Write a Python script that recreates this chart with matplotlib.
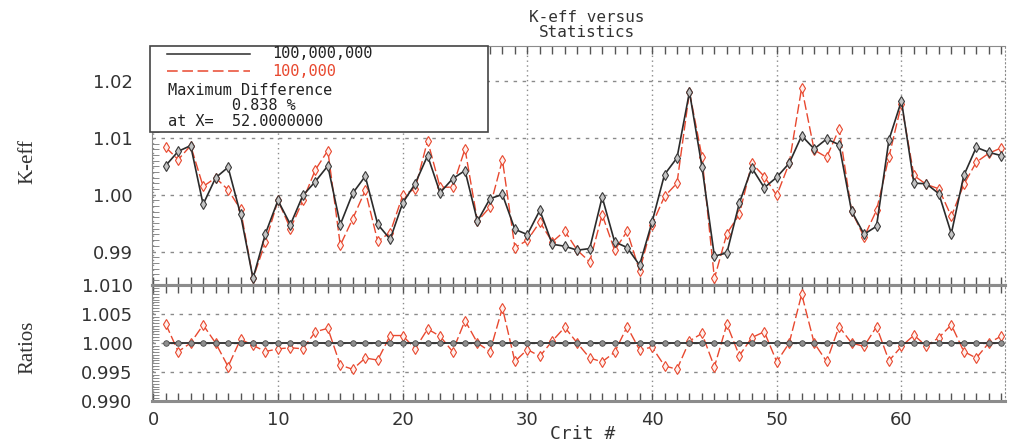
import numpy as np
import matplotlib.pyplot as plt
from matplotlib.ticker import MultipleLocator
from matplotlib.patches import Rectangle
from matplotlib.lines import Line2D

# critical case numbers
crit = np.arange(1, 69)

# k-eff, 100,000,000 histories
keff_big = [1.00514, 1.00765, 1.00865, 0.99830, 1.00298, 1.00484, 0.99654, 0.98526, 0.99316, 0.99900,
            0.99474, 0.99988, 1.00233, 1.00509, 0.99474, 1.00028, 1.00326, 0.99479, 0.99216, 0.99853,
            1.00193, 1.00689, 1.00035, 1.00281, 1.00426, 0.99532, 0.99930, 1.00005, 0.99391, 0.99298,
            0.99725, 0.99128, 0.99093, 0.99023, 0.99052, 0.99958, 0.99170, 0.99070, 0.98760, 0.99519,
            1.00356, 1.00649, 1.01812, 1.00496, 0.98918, 0.98976, 0.99853, 1.00474, 1.00123, 1.00309,
            1.00555, 1.01040, 1.00807, 1.00982, 1.00882, 0.99713, 0.99304, 0.99444, 1.00970, 1.01654,
            1.00204, 1.00193, 1.00018, 0.99316, 1.00339, 1.00835, 1.00748, 1.00689]

# k-eff, 100,000 histories
keff_small = [1.00835, 1.00619, 1.00865, 1.00146, 1.00298, 1.00088, 0.99742, 0.98526, 0.99168, 0.99900,
              0.99404, 0.99900, 1.00439, 1.00777, 0.99111, 0.99579, 1.00075, 0.99181, 0.99333, 0.99988,
              1.00105, 1.00953, 1.00133, 1.00133, 1.00807, 0.99532, 0.99783, 1.00614, 0.99070, 0.99198,
              0.99519, 0.99170, 0.99361, 0.99023, 0.98818, 0.99649, 0.99023, 0.99356, 0.98660, 0.99474,
              0.99970, 1.00204, 1.01812, 1.00672, 0.98526, 0.99316, 0.99654, 1.00555, 1.00321, 0.99988,
              1.00555, 1.01888, 1.00789, 1.00660, 1.01158, 0.99713, 0.99257, 0.99725, 1.00672, 1.01596,
              1.00339, 1.00181, 1.00105, 0.99619, 1.00181, 1.00573, 1.00730, 1.00825]

# ratios (100,000 / 100,000,000)
ratio_big = [1.0] * 68
ratio_small = [1.00329, 0.99853, 1.00000, 1.00312, 1.00000, 0.99594, 1.00065, 0.99959, 0.99853, 0.99900,
               0.99918, 0.99900, 1.00194, 1.00253, 0.99618, 0.99547, 0.99741, 0.99706, 1.00129, 1.00129,
               0.99900, 1.00241, 1.00118, 0.99853, 1.00388, 1.00000, 0.99853, 1.00606, 0.99682, 0.99888,
               0.99771, 1.00035, 1.00271, 1.00000, 0.99741, 0.99676, 0.99841, 1.00282, 0.99882, 0.99929,
               0.99606, 0.99547, 1.00035, 1.00165, 0.99588, 1.00324, 0.99782, 1.00094, 1.00194, 0.99676,
               1.00000, 1.00841, 1.00000, 0.99682, 1.00282, 1.00000, 0.99941, 1.00282, 0.99694, 0.99941,
               1.00135, 0.99947, 1.00094, 1.00312, 0.99853, 0.99741, 1.00000, 1.00118]

keff_ticks = [0.99, 1.00, 1.01, 1.02]
ratio_ticks = [0.990, 0.995, 1.000, 1.005, 1.010]
x_ticks = [0, 10, 20, 30, 40, 50, 60]

mono = 'DejaVu Sans Mono'
RED = '#e8482f'
BLK = '#2b2b2b'
GRID = '#8a8a8a'
SPINE = '#8c8c8c'
TXT = '#333333'

fig = plt.figure(figsize=(10.1, 4.47), dpi=100)
ax1 = fig.add_axes([0.1505, 0.3624, 0.8445, 0.5347])
ax2 = fig.add_axes([0.1505, 0.1029, 0.8445, 0.2595])

# --- K-eff panel ---
ax1.plot(crit, keff_big, color=BLK, lw=1.2, marker='d', ms=5, mfc='#c4c4c4', mec='#3a3a3a', mew=0.8, zorder=4)
ax1.plot(crit, keff_small, color=RED, lw=1.0, ls=(0, (7, 2.5)), marker='d', ms=5, mfc='#fff0ec',
         mec=RED, mew=0.8, zorder=3)
ax1.set_xlim(-0.1, 68.3)
ax1.set_ylim(0.9841, 1.0262)
ax1.set_yticks(keff_ticks)
ax1.set_yticklabels(['%.2f' % v for v in keff_ticks])
ax1.yaxis.set_minor_locator(MultipleLocator(0.001))

# --- ratio panel ---
ax2.plot(crit, ratio_big, color=BLK, lw=1.3, marker='o', ms=4, mfc='#8f8f8f', mec='#4a4a4a', mew=0.6, zorder=4)
ax2.plot(crit, ratio_small, color=RED, lw=1.0, ls=(0, (7, 2.5)), marker='d', ms=5, mfc='#fff0ec',
         mec=RED, mew=0.8, zorder=3)
ax2.set_xlim(-0.1, 68.3)
ax2.set_ylim(0.990, 1.010)
ax2.set_yticks(ratio_ticks)
ax2.set_yticklabels(['%.3f' % v for v in ratio_ticks])
ax2.yaxis.set_minor_locator(MultipleLocator(0.0005))

for ax in (ax1, ax2):
    ax.set_xticks(x_ticks)
    ax.xaxis.set_minor_locator(MultipleLocator(1))
    ax.tick_params(axis='x', which='both', direction='in', top=True, bottom=True,
                   length=6, width=1, color='#555555')
    ax.tick_params(axis='y', which='major', direction='in', length=0, pad=14,
                   labelsize=13, labelcolor=TXT)
    ax.tick_params(axis='y', which='minor', direction='in', length=5, width=0.6, color='#777777')
    ax.grid(True, axis='x', color=GRID, ls=(0, (1, 2.5)), lw=1)
    ax.grid(True, axis='y', color=GRID, ls=(0, (2.5, 4)), lw=1)
    for s in ax.spines.values():
        s.set_color(SPINE)
    ax.spines['right'].set_linestyle((0, (1, 2.5)))

ax1.tick_params(axis='x', labelbottom=False)
ax1.spines['bottom'].set_linewidth(2.2)
ax2.spines['top'].set_linewidth(2.2)
ax2.spines['bottom'].set_linewidth(2.2)
ax2.tick_params(axis='x', labelsize=13, pad=7, labelcolor=TXT)

# --- legend box ---
fig.add_artist(Rectangle((0.1485, 0.7047), 0.3347, 0.1924, transform=fig.transFigure,
                         facecolor='white', edgecolor='#444444', lw=1.2, zorder=5))
fig.add_artist(Line2D([0.165, 0.248], [1 - 54 / 447] * 2, transform=fig.transFigure,
                      color=BLK, lw=1.1, zorder=6))
fig.add_artist(Line2D([0.165, 0.248], [1 - 71 / 447] * 2, transform=fig.transFigure,
                      color=RED, lw=1.1, ls=(0, (7, 3)), zorder=6))
fig.text(0.269, 1 - 54 / 447, '100,000,000', family=mono, size=11, va='center', color='#222222', zorder=7)
fig.text(0.269, 1 - 71 / 447, '100,000', family=mono, size=11, va='center', color=RED, zorder=7)
fig.text(0.166, 1 - 106 / 447, 'Maximum Difference\n       0.838 %\nat X=  52.0000000',
         family=mono, size=11, va='center', linespacing=1.05, color='#222222', zorder=7)

# --- titles and labels ---
fig.text(0.581, 1 - 25 / 447, 'K-eff versus\nStatistics', family=mono, size=11.5,
         ha='center', va='center', linespacing=1.0, color=TXT)
fig.text(0.577, 1 - 434 / 447, 'Crit #', family=mono, size=13, ha='center', va='center', color=TXT)
fig.text(0.028, 1 - 162 / 447, 'K-eff', family='Liberation Serif', size=15, rotation=90,
         ha='center', va='center', color=TXT)
fig.text(0.028, 1 - 347 / 447, 'Ratios', family='Liberation Serif', size=15, rotation=90,
         ha='center', va='center', color=TXT)

fig.savefig('out.png', dpi=100)
